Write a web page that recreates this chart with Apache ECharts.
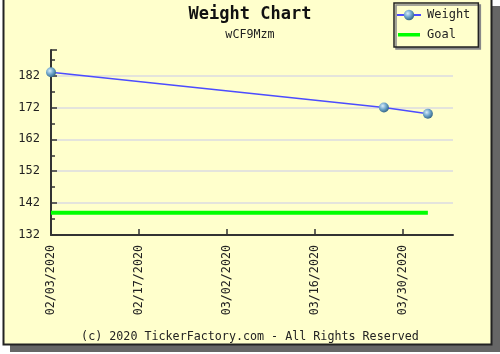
<!DOCTYPE html>
<html>
<head>
<meta charset="UTF-8">
<title>Weight Chart</title>
<script src="https://cdn.jsdelivr.net/npm/echarts@6/dist/echarts.min.js"></script>
<style>
  html, body { margin: 0; padding: 0; background: #fff; }
  #main { width: 500px; height: 354px; }
</style>
</head>
<body>
<div id="main"></div>
<script>
// data
var startDate = '2020-02-03';
var endDate = '2020-04-07';
var weightDates = ['2020-02-03', '2020-03-27', '2020-04-03'];
var weightValues = [183, 172, 170];
var goalDates = ['2020-02-03', '2020-04-03'];
var goalValues = [139, 139];
var xTickDays = [0, 14, 28, 42, 56];
var yTicks = [132, 142, 152, 162, 172, 182];

var DAY = 24 * 3600 * 1000;
var t0 = Date.parse(startDate + 'T00:00:00Z');
function dayOf(s) { return Math.round((Date.parse(s + 'T00:00:00Z') - t0) / DAY); }
function pad(n) { return n < 10 ? '0' + n : '' + n; }
function fmtDay(d) {
    var dt = new Date(t0 + d * DAY);
    return pad(dt.getUTCMonth() + 1) + '/' + pad(dt.getUTCDate()) + '/' + dt.getUTCFullYear();
}

var FONT = '"DejaVu Sans Mono", "Liberation Mono", monospace';
// thin bar inside a 22x13 box, used as the legend mark of the goal line
var goalIcon = 'path://M0,0L0.01,0L0.01,0.01Z M0,5L22,5L22,8.5L0,8.5Z M21.99,12.99L22,12.99L22,13Z';

var myChart = echarts.init(document.getElementById('main'));

var option = {
    backgroundColor: '#ffffff',
    animation: false,
    graphic: [
        // shadow of the frame
        { type: 'rect', z: -10, shape: { x: 10, y: 6, width: 490, height: 346 }, style: { fill: '#666666' } },
        // the frame
        { type: 'rect', z: -9, shape: { x: 3.5, y: -2, width: 488, height: 346.5 }, style: { fill: '#ffffcc', stroke: '#222222', lineWidth: 2 } },
        // footer
        { type: 'text', left: 'center', top: 331, style: { text: '(c) 2020 TickerFactory.com - All Rights Reserved', font: '11.7px ' + FONT, fill: '#222222' } }
    ],
    title: {
        text: 'Weight Chart',
        subtext: 'wCF9Mzm',
        left: 'center',
        top: 1,
        itemGap: 6,
        textStyle: { fontFamily: FONT, fontSize: 17, fontWeight: 'bold', color: '#111111' },
        subtextStyle: { fontFamily: FONT, fontSize: 11.7, color: '#222222' }
    },
    legend: {
        orient: 'vertical',
        left: 394,
        top: 3,
        padding: [6, 8, 6, 2],
        itemGap: 7,
        itemWidth: 24,
        itemHeight: 13,
        backgroundColor: '#ffffcc',
        borderColor: '#222222',
        borderWidth: 1.5,
        shadowColor: '#888888',
        shadowOffsetX: 2,
        shadowOffsetY: 2,
        shadowBlur: 0,
        textStyle: { fontFamily: FONT, fontSize: 12, color: '#222222', padding: [0, 0, 0, 1] },
        data: ['Weight', { name: 'Goal', icon: goalIcon }]
    },
    grid: { left: 51, right: 47, top: 50, bottom: 119 },
    xAxis: {
        type: 'value',
        min: 0,
        max: dayOf(endDate),
        interval: 14,
        splitLine: { show: false },
        axisLine: { lineStyle: { color: '#333333', width: 2 } },
        axisTick: { inside: true, length: 6, customValues: xTickDays, lineStyle: { color: '#333333', width: 1.5 } },
        axisLabel: {
            rotate: 90,
            margin: 10,
            customValues: xTickDays,
            fontFamily: FONT,
            fontSize: 11.7,
            color: '#222222',
            formatter: fmtDay
        }
    },
    yAxis: {
        type: 'value',
        min: 132,
        max: 190,
        interval: 10,
        axisLine: { show: true, lineStyle: { color: '#333333', width: 2 } },
        axisTick: { show: true, inside: true, length: 6, lineStyle: { color: '#333333', width: 1.5 } },
        minorTick: { show: true, splitNumber: 2, length: 4, lineStyle: { color: '#333333', width: 1.5 } },
        splitLine: { show: true, showMinLine: false, showMaxLine: false, lineStyle: { color: '#e4e4dc', width: 2 } },
        axisLabel: {
            margin: 11,
            fontFamily: FONT,
            fontSize: 12,
            color: '#222222',
            formatter: function (v) { return yTicks.indexOf(v) >= 0 ? String(v) : ''; }
        }
    },
    series: [
        {
            name: 'Goal',
            type: 'line',
            symbol: 'none',
            lineStyle: { color: '#00ff00', width: 4 },
            itemStyle: { color: '#00ff00' },
            data: goalDates.map(function (d, i) { return [dayOf(d), goalValues[i]]; })
        },
        {
            name: 'Weight',
            type: 'line',
            symbol: 'circle',
            symbolSize: 10,
            z: 5,
            lineStyle: { color: '#4c4cff', width: 1.5 },
            itemStyle: {
                color: {
                    type: 'radial', x: 0.38, y: 0.35, r: 0.7,
                    colorStops: [
                        { offset: 0, color: '#d8ecf8' },
                        { offset: 0.5, color: '#6fa6cc' },
                        { offset: 1, color: '#2e5f80' }
                    ]
                }
            },
            data: weightDates.map(function (d, i) { return [dayOf(d), weightValues[i]]; })
        }
    ]
};

myChart.setOption(option);
</script>
</body>
</html>
